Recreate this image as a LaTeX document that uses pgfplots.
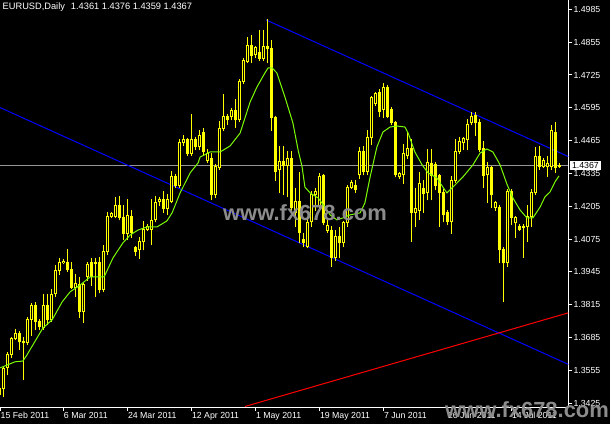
\documentclass[border=0pt]{standalone}
\usepackage{pgfplots}
\pgfplotsset{compat=1.18}
\usepackage{pgfplotstable}
\usepackage{fontspec}
\setmainfont{Liberation Sans}
\definecolor{candle}{RGB}{255,255,0}
\definecolor{maline}{RGB}{124,252,0}
\definecolor{chanblue}{RGB}{0,0,255}
\definecolor{trendred}{RGB}{255,0,0}
\definecolor{priceline}{RGB}{150,150,150}
\definecolor{wm}{RGB}{140,140,140}

\pgfplotstableread{
i o h l c
-1 1.3458 1.3497 1.3446 1.3485
0 1.3485 1.3569 1.3450 1.3561
1 1.3565 1.3624 1.3537 1.3616
2 1.3616 1.3687 1.3608 1.3680
3 1.3680 1.3715 1.3676 1.3703
4 1.3703 1.3711 1.3636 1.3668
5 1.3668 1.3684 1.3517 1.3664
6 1.3664 1.3763 1.3656 1.3755
7 1.3755 1.3818 1.3695 1.3814
8 1.3814 1.3822 1.3715 1.3747
9 1.3747 1.3755 1.3715 1.3727
10 1.3723 1.3854 1.3715 1.3814
11 1.3814 1.3854 1.3735 1.3755
12 1.3755 1.3874 1.3747 1.3854
13 1.3858 1.3969 1.3846 1.3949
14 1.3949 1.4000 1.3933 1.3981
15 1.3981 1.3996 1.3977 1.3988
16 1.3984 1.4032 1.3945 1.3953
17 1.3953 1.3981 1.3881 1.3885
18 1.3885 1.3933 1.3846 1.3901
19 1.3897 1.3921 1.3763 1.3790
20 1.3790 1.3905 1.3743 1.3897
21 1.3925 1.3984 1.3913 1.3973
22 1.3984 1.4000 1.3893 1.3925
23 1.3977 1.4000 1.3846 1.3984
24 1.3981 1.4004 1.3862 1.3874
25 1.3874 1.4048 1.3866 1.4024
26 1.4024 1.4182 1.4016 1.4163
27 1.4163 1.4179 1.4159 1.4175
28 1.4163 1.4238 1.4159 1.4210
29 1.4210 1.4242 1.4151 1.4159
30 1.4159 1.4210 1.4072 1.4099
31 1.4099 1.4230 1.4072 1.4167
32 1.4163 1.4190 1.4083 1.4103
33 1.4040 1.4044 1.4012 1.4024
34 1.4032 1.4083 1.4000 1.4064
35 1.4064 1.4143 1.4032 1.4115
36 1.4115 1.4131 1.4111 1.4123
37 1.4115 1.4230 1.4052 1.4147
38 1.4151 1.4242 1.4143 1.4218
39 1.4222 1.4238 1.4210 1.4230
40 1.4230 1.4262 1.4182 1.4198
41 1.4198 1.4250 1.4171 1.4230
42 1.4222 1.4341 1.4218 1.4321
43 1.4321 1.4329 1.4281 1.4289
44 1.4289 1.4468 1.4281 1.4456
45 1.4456 1.4487 1.4444 1.4468
46 1.4468 1.4475 1.4408 1.4416
47 1.4416 1.4567 1.4408 1.4468
48 1.4468 1.4479 1.4428 1.4440
49 1.4440 1.4507 1.4428 1.4487
50 1.4499 1.4515 1.4408 1.4420
51 1.4388 1.4428 1.4380 1.4416
52 1.4396 1.4416 1.4230 1.4250
53 1.4250 1.4369 1.4238 1.4361
54 1.4357 1.4539 1.4349 1.4515
55 1.4515 1.4646 1.4507 1.4559
56 1.4559 1.4567 1.4527 1.4547
57 1.4559 1.4594 1.4547 1.4586
58 1.4586 1.4626 1.4519 1.4547
59 1.4547 1.4709 1.4539 1.4701
60 1.4701 1.4792 1.4693 1.4784
61 1.4780 1.4875 1.4773 1.4840
62 1.4840 1.4883 1.4776 1.4804
63 1.4808 1.4836 1.4796 1.4832
64 1.4816 1.4903 1.4784 1.4792
65 1.4792 1.4903 1.4784 1.4836
66 1.4836 1.4943 1.4773 1.4828
67 1.4828 1.4860 1.4507 1.4555
68 1.4555 1.4559 1.4309 1.4341
69 1.4349 1.4440 1.4258 1.4384
70 1.4384 1.4440 1.4250 1.4365
71 1.4365 1.4420 1.4242 1.4396
72 1.4396 1.4420 1.4190 1.4202
73 1.4179 1.4277 1.4123 1.4222
74 1.4222 1.4337 1.4060 1.4103
75 1.4072 1.4099 1.4044 1.4060
76 1.4044 1.4151 1.4040 1.4139
77 1.4143 1.4262 1.4123 1.4250
78 1.4250 1.4277 1.4190 1.4262
79 1.4210 1.4333 1.4190 1.4321
80 1.4325 1.4329 1.4131 1.4139
81 1.4111 1.4151 1.4103 1.4127
82 1.4111 1.4123 1.3965 1.4004
83 1.4004 1.4111 1.3992 1.4087
84 1.4087 1.4119 1.4004 1.4060
85 1.4060 1.4143 1.4044 1.4139
86 1.4139 1.4289 1.4123 1.4281
87 1.4281 1.4309 1.4277 1.4301
88 1.4289 1.4309 1.4258 1.4270
89 1.4329 1.4436 1.4317 1.4420
90 1.4420 1.4440 1.4329 1.4341
91 1.4341 1.4507 1.4329 1.4479
92 1.4479 1.4638 1.4448 1.4634
93 1.4614 1.4654 1.4606 1.4650
94 1.4654 1.4666 1.4559 1.4582
95 1.4590 1.4693 1.4555 1.4677
96 1.4677 1.4685 1.4555 1.4559
97 1.4590 1.4598 1.4527 1.4535
98 1.4535 1.4539 1.4321 1.4329
99 1.4321 1.4337 1.4317 1.4333
100 1.4329 1.4448 1.4297 1.4416
101 1.4408 1.4499 1.4396 1.4432
102 1.4432 1.4468 1.4064 1.4182
103 1.4182 1.4277 1.4123 1.4198
104 1.4190 1.4337 1.4151 1.4297
105 1.4274 1.4309 1.4182 1.4254
106 1.4258 1.4428 1.4230 1.4377
107 1.4373 1.4428 1.4230 1.4325
108 1.4369 1.4380 1.4270 1.4289
109 1.4325 1.4329 1.4123 1.4258
110 1.4258 1.4270 1.4143 1.4171
111 1.4182 1.4190 1.4131 1.4143
112 1.4143 1.4321 1.4099 1.4309
113 1.4309 1.4468 1.4301 1.4420
114 1.4420 1.4479 1.4416 1.4460
115 1.4456 1.4479 1.4428 1.4475
116 1.4468 1.4547 1.4428 1.4527
117 1.4535 1.4575 1.4527 1.4559
118 1.4563 1.4575 1.4487 1.4535
119 1.4535 1.4547 1.4420 1.4428
120 1.4432 1.4460 1.4281 1.4325
121 1.4329 1.4377 1.4218 1.4357
122 1.4357 1.4361 1.4202 1.4250
123 1.4202 1.4222 1.4190 1.4218
124 1.4202 1.4210 1.3981 1.4032
125 1.4032 1.4040 1.3826 1.3981
126 1.3981 1.4270 1.3965 1.4262
127 1.4262 1.4270 1.4131 1.4159
128 1.4139 1.4163 1.4083 1.4159
129 1.4123 1.4131 1.4111 1.4115
130 1.4119 1.4131 1.4004 1.4123
131 1.4123 1.4210 1.4064 1.4163
132 1.4163 1.4270 1.4123 1.4258
133 1.4258 1.4436 1.4250 1.4404
134 1.4404 1.4440 1.4349 1.4361
135 1.4361 1.4396 1.4357 1.4388
136 1.4361 1.4404 1.4321 1.4373
137 1.4361 1.4523 1.4349 1.4507
138 1.4499 1.4535 1.4337 1.4357
139 1.4361 1.4376 1.4359 1.4367
}\candles

\begin{document}
\begin{tikzpicture}
\useasboundingbox (0,0) rectangle (610bp,-424bp);
\clip (0,0) rectangle (610bp,-424bp);
\fill[black] (0,0) rectangle (610bp,-424bp);
\begin{axis}[
  at={(0,0)}, anchor=north west,
  scale only axis, width=568.3bp, height=407bp,
  xmin=-0.825, xmax=141.25, ymin=1.3410, ymax=1.5022,
  axis x line*=bottom, axis y line*=right,
  axis line style={white, line width=1bp, -},
  every tick/.style={white, line width=1bp},
  tick align=outside, major tick length=4bp,
  xtick={-0.825,15,31,47,63,79,95,111,127},
  xticklabels={15 Feb 2011,6 Mar 2011,24 Mar 2011,12 Apr 2011,1 May 2011,19 May 2011,7 Jun 2011,26 Jun 2011,14 Jul 2011},
  ytick={1.3425,1.3555,1.3685,1.3815,1.3945,1.4075,1.4205,1.4335,1.4465,1.4595,1.4725,1.4855,1.4985},
  yticklabels={1.3425,1.3555,1.3685,1.3815,1.3945,1.4075,1.4205,1.4335,1.4465,1.4595,1.4725,1.4855,1.4985},
  xticklabel style={anchor=north west, text=white, font=\fontsize{8.8}{10}\selectfont, inner sep=0pt, xshift=0.5bp, yshift=-1bp},
  yticklabel style={anchor=west, text=white, font=\fontsize{8.8}{10}\selectfont, inner sep=0pt, xshift=1bp},
  clip mode=individual,
  minor tick num=0,
]
% current price line
\addplot[priceline, line width=1bp, mark=none] coordinates {(-0.825,1.4367) (141.25,1.4367)};
% channel lines
\addplot[chanblue, line width=1bp, mark=none] coordinates {(65.7,1.4943) (141.25,1.4402)};
\addplot[chanblue, line width=1bp, mark=none] coordinates {(-0.825,1.4596) (141.25,1.3579)};
\addplot[trendred, line width=1bp, mark=none] coordinates {(60.4,1.3412) (141.25,1.3783)};
% wicks
\addplot[draw=none, mark=none, error bars/.cd, y dir=plus, y explicit, error mark=none,
  error bar style={draw=candle, line width=1bp, shorten <=-0.5bp, shorten >=-0.5bp}]
  table[x=i, y=l, y error expr=\thisrow{h}-\thisrow{l}] {\candles};
% bodies
\addplot[draw=none, mark=none, error bars/.cd, y dir=plus, y explicit, error mark=none,
  error bar style={draw=candle, line width=3bp, shorten <=-0.5bp, shorten >=-0.5bp}]
  table[x=i, y expr={min(\thisrow{o},\thisrow{c})}, y error expr={abs(\thisrow{c}-\thisrow{o})}] {\candles};
% hollow interiors of rising candles
\addplot[draw=none, mark=none, restrict expr to domain={\thisrow{c}-\thisrow{o}}{0.0007:1},
  error bars/.cd, y dir=plus, y explicit, error mark=none,
  error bar style={draw=black, line width=1bp, shorten <=0.5bp, shorten >=0.5bp}]
  table[x=i, y=o, y error expr=\thisrow{c}-\thisrow{o}] {\candles};
% moving average
\addplot[maline, line width=1bp, mark=none] coordinates {
(-0.8,1.3565) (1.7,1.3581) (2.9,1.3589) (4.9,1.3592) (5.9,1.3616) (7.4,1.3656) (9.9,1.3723)
(12.2,1.3755) (14.7,1.3826) (16.7,1.3866) (19.2,1.3893) (21.7,1.3925) (24.2,1.3925) (25.2,1.3925)
(27.4,1.4000) (29.9,1.4060) (31.7,1.4091) (33.7,1.4111) (35.9,1.4123) (38.4,1.4123) (40.9,1.4147)
(42.2,1.4179) (44.2,1.4258) (46.7,1.4337) (48.7,1.4377) (49.2,1.4400) (51.7,1.4420) (54.2,1.4420)
(56.7,1.4444) (59.2,1.4495) (61.7,1.4618) (63.4,1.4677) (65.4,1.4733) (66.2,1.4753) (67.2,1.4753)
(68.4,1.4733) (70.4,1.4638) (72.4,1.4535) (73.7,1.4428) (74.7,1.4361) (75.4,1.4281) (76.7,1.4258)
(78.7,1.4238) (80.4,1.4202) (81.7,1.4171) (83.4,1.4151) (84.9,1.4159) (86.7,1.4171) (89.2,1.4179)
(90.4,1.4218) (91.7,1.4321) (93.4,1.4440) (94.9,1.4499) (96.7,1.4519) (98.4,1.4523) (100.4,1.4519)
(101.2,1.4495) (102.9,1.4420) (104.7,1.4369) (106.2,1.4337) (108.4,1.4317) (109.9,1.4281)
(110.9,1.4258) (112.9,1.4289) (114.9,1.4321) (117.4,1.4369) (119.2,1.4416) (120.9,1.4432)
(122.4,1.4420) (124.2,1.4369) (125.9,1.4293) (127.4,1.4238) (129.2,1.4190) (130.9,1.4159)
(132.4,1.4159) (134.2,1.4202) (135.4,1.4242) (136.7,1.4262) (137.9,1.4301) (138.9,1.4325)
};
\node[fill=white, text=black, anchor=west, inner xsep=2bp, inner ysep=1.5bp, font=\fontsize{8.8}{10}\selectfont, xshift=1.5bp] at (axis cs:141.25,1.4367) {1.4367};
\end{axis}
\node[anchor=north west, text=white, inner sep=0pt, font=\fontsize{9.3}{10}\selectfont] at (2.5bp,-3bp) {EURUSD,Daily\hspace{6bp}1.4361 1.4376 1.4359 1.4367};
\node[text=wm, font=\fontsize{22}{22}\selectfont\bfseries, inner sep=0pt] at (305bp,-213bp) {www.fx678.com};
\node[text=wm, font=\fontsize{22}{22}\selectfont\bfseries, inner sep=0pt] at (527bp,-410bp) {www.fx678.com};
\end{tikzpicture}
\end{document}
